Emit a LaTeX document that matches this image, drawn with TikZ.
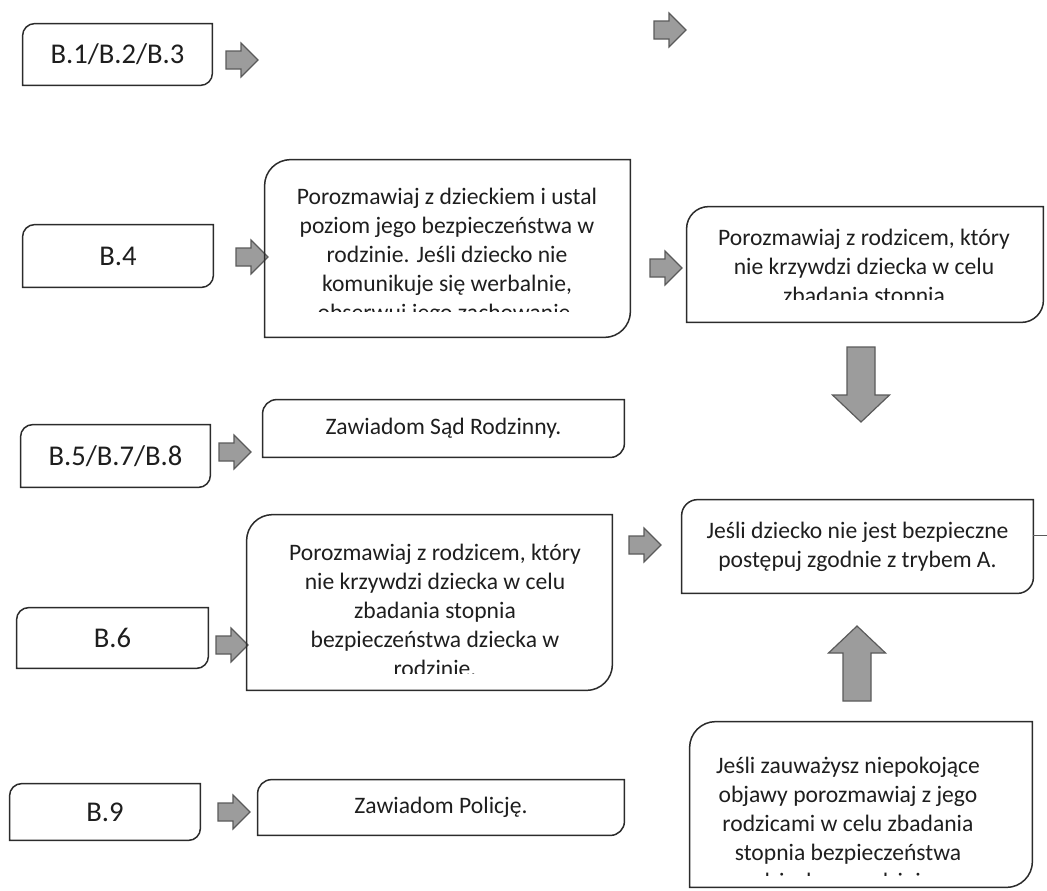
\documentclass[tikz,border=0pt]{standalone}
\usepackage{fontspec}
\setmainfont{Carlito}
\usetikzlibrary{calc,fit}
\definecolor{inkline}{HTML}{2B2B2B}
\definecolor{textink}{HTML}{1E1E1E}
\definecolor{arrowfill}{HTML}{9C9C9C}
\definecolor{arrowedge}{HTML}{5A5A5A}
\tikzset{
  frameline/.style={draw=inkline, line width=0.75pt},
  sized/.style 2 args={minimum width=#1*0.5pt, minimum height=#2*0.5pt},
  codebox/.style={inner sep=0pt, font=\fontsize{14.3}{17}\selectfont, text=textink},
  stepbox/.style={inner sep=0pt, align=center, font=\fontsize{11.8}{14.5}\selectfont, text=textink},
  bodytext/.style={inner sep=0pt, align=center, font=\fontsize{11.8}{14.5}\selectfont, text=textink},
  blockarrow/.style={fill=arrowfill, draw=arrowedge, line width=0.6pt, line join=miter},
  rarrow/.pic={\draw[blockarrow] (-16,-9) -- (-1,-9) -- (-1,-17) -- (16,0)
    -- (-1,17) -- (-1,9) -- (-16,9) -- cycle;},
  darrow/.pic={\draw[blockarrow] (-14,-37.5) -- (14,-37.5) -- (14,10.5) -- (28.5,10.5)
    -- (0,37.5) -- (-28.5,10.5) -- (-14,10.5) -- cycle;},
  uarrow/.pic={\draw[blockarrow] (-14,37.5) -- (14,37.5) -- (14,-10.5) -- (28.5,-10.5)
    -- (0,-37.5) -- (-28.5,-10.5) -- (-14,-10.5) -- cycle;}
}
% frame with rounded top-left and bottom-right corners
\newcommand{\diagframe}[2]{%
  \draw[frameline] ([yshift=-#2]#1.north west) arc[start angle=180, end angle=90, radius=#2]
    -- (#1.north east) -- ([yshift=#2]#1.south east)
    arc[start angle=0, end angle=-90, radius=#2] -- (#1.south west) -- cycle;}

\begin{document}
\begin{tikzpicture}[x=0.5pt,y=-0.5pt]
  \useasboundingbox (0,0) rectangle (1047,890);

  % Row B.1/B.2/B.3
  \pic (atop) at (670,30) {rarrow};
  \node[codebox, sized={189}{61}] (b123) at (117.5,54.5) {B.1/B.2/B.3};
  \diagframe{b123}{6pt}
  \pic (a123) at (242,60) {rarrow};

  % Row B.4
  \node[codebox, sized={190}{62}] (b4) at (118,256) {B.4};
  \diagframe{b4}{6pt}
  \pic (a4) at (252,257) {rarrow};
  \node[inner sep=0pt, fit={(265,160) (630,337)}] (child) {};
  \begin{scope}
    \clip (child.north west) rectangle (630,311);
    \node[bodytext, anchor=north] (childtxt) at (447,188)
      {Porozmawiaj z dzieckiem i ustal\\poziom jego bezpieczeństwa w\\rodzinie. Jeśli dziecko nie\\komunikuje się werbalnie,\\obserwuj jego zachowanie.};
  \end{scope}
  \diagframe{child}{13pt}
  \pic (a4b) at (666,268) {rarrow};
  \node[inner sep=0pt, fit={(687,207) (1043,322)}] (parent1) {};
  \begin{scope}
    \clip (parent1.north west) rectangle (1043,299);
    \node[bodytext, anchor=north] (parent1txt) at (864,229)
      {Porozmawiaj z rodzicem, który\\nie krzywdzi dziecka w celu\\zbadania stopnia\\bezpieczeństwa dziecka w\\rodzinie.};
  \end{scope}
  \diagframe{parent1}{11pt}
  \pic (adown) at (861,384.5) {darrow};

  % Row B.5/B.7/B.8
  \node[codebox, sized={189}{62}] (b578) at (115.5,456) {B.5/B.7/B.8};
  \diagframe{b578}{6pt}
  \pic (a578) at (235,452) {rarrow};
  \node[stepbox, sized={361}{57}] (court) at (443.5,428.5) {Zawiadom Sąd Rodzinny.};
  \diagframe{court}{7pt}

  % Row B.6
  \node[codebox, sized={191}{60}] (b6) at (112.5,638) {B.6};
  \diagframe{b6}{6pt}
  \pic (a6) at (232,645) {rarrow};
  \node[inner sep=0pt, fit={(247,515) (612,690)}] (parent2) {};
  \begin{scope}
    \clip (parent2.north west) rectangle (612,673);
    \node[bodytext, anchor=north] (parent2txt) at (435,544)
      {Porozmawiaj z rodzicem, który\\nie krzywdzi dziecka w celu\\zbadania stopnia\\bezpieczeństwa dziecka w\\rodzinie.};
  \end{scope}
  \diagframe{parent2}{13pt}
  \pic (a6b) at (645,545) {rarrow};
  \node[stepbox, sized={351}{93}] (safe) at (857.5,546.5)
    {Jeśli dziecko nie jest bezpieczne\\postępuj zgodnie z trybem A.};
  \diagframe{safe}{8pt}
  \coordinate (edge) at (1047,535);
  \draw[draw=arrowedge, line width=0.5pt] (safe.east |- edge) -- (edge);
  \pic (aup) at (857,663.5) {uarrow};

  % Row B.9
  \node[codebox, sized={190}{56}] (b9) at (105,812) {B.9};
  \diagframe{b9}{6pt}
  \pic (a9) at (234,812) {rarrow};
  \node[stepbox, sized={366}{55}] (police) at (441,807.5) {Zawiadom Policję.};
  \diagframe{police}{7pt}
  \node[inner sep=0pt, fit={(690,722) (1032,887)}] (signs) {};
  \begin{scope}
    \clip (signs.north west) rectangle (1032,875);
    \node[bodytext, anchor=north] (signstxt) at (848,757)
      {Jeśli zauważysz niepokojące\\objawy porozmawiaj z jego\\rodzicami w celu zbadania\\stopnia bezpieczeństwa\\dziecka w rodzinie.};
  \end{scope}
  \diagframe{signs}{13pt}
\end{tikzpicture}
\end{document}
